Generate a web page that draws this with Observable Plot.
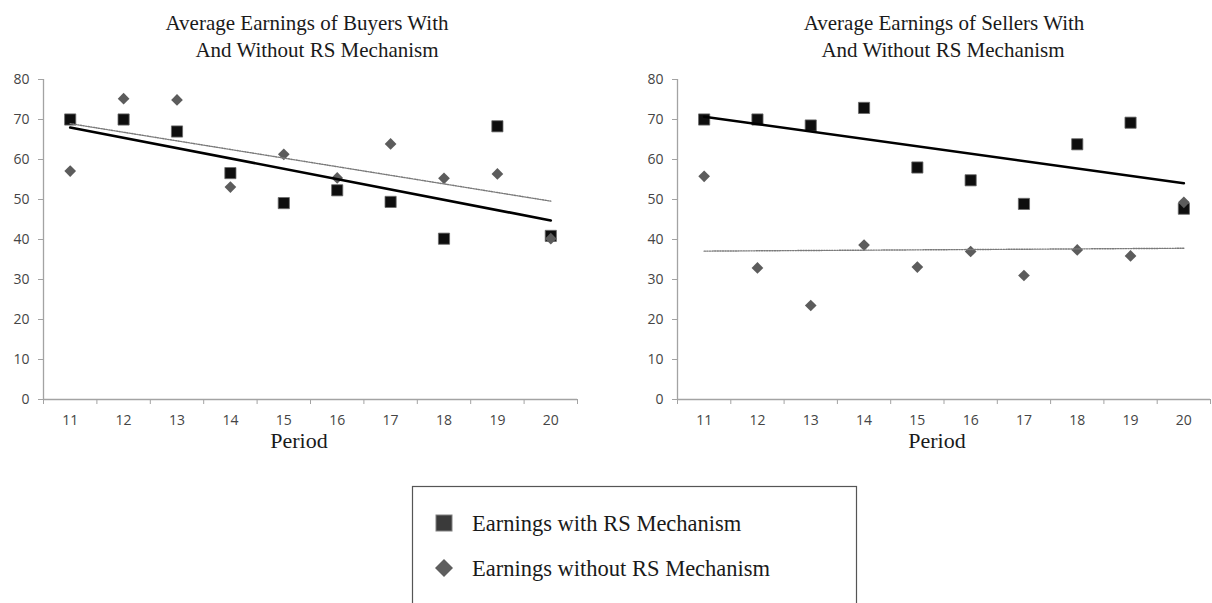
<!DOCTYPE html>
<html>
<head>
<meta charset="utf-8">
<script src="https://cdn.jsdelivr.net/npm/d3@7"></script>
<script src="https://cdn.jsdelivr.net/npm/@observablehq/plot@0.6"></script>
<style>
  html, body { margin: 0; padding: 0; background: #fff; }
  #wrap { position: relative; width: 1212px; height: 603px; overflow: hidden; background: #fff; }
  #wrap > .panel { position: absolute; top: 0; }
  #overlay { position: absolute; left: 0; top: 0; pointer-events: none; }
  .serif { font-family: "Liberation Serif", "Times New Roman", serif; fill: #1a1a1a; }
</style>
</head>
<body>
<div id="wrap">
  <div class="panel" id="left" style="left:0px"></div>
  <div class="panel" id="right" style="left:634px"></div>
  <svg id="overlay" width="1212" height="603"></svg>
</div>
<script>
// ---- data ----
const periods = [11, 12, 13, 14, 15, 16, 17, 18, 19, 20];
const yTicks = [0, 10, 20, 30, 40, 50, 60, 70, 80];

const buyersWith    = [70.0, 70.0, 67.0, 56.6, 49.1, 52.3, 49.4, 40.2, 68.3, 40.9];
const buyersWithout = [57.1, 75.2, 74.9, 53.1, 61.3, 55.4, 63.9, 55.3, 56.4, 40.2];
const sellersWith    = [70.0, 70.0, 68.5, 72.9, 58.0, 54.8, 48.9, 63.8, 69.2, 47.7];
const sellersWithout = [55.8, 32.9, 23.5, 38.6, 33.1, 37.0, 31.0, 37.4, 35.9, 49.3];

const titles = {
  left: ["Average Earnings of Buyers With", "And Without RS Mechanism"],
  right: ["Average Earnings of Sellers With", "And Without RS Mechanism"]
};
const xLabel = "Period";
const legendLabels = ["Earnings with RS Mechanism", "Earnings without RS Mechanism"];

// ---- symbols ----
const squareSym = { draw(ctx, size) { const s = Math.sqrt(size) / 2; ctx.rect(-s, -s, 2 * s, 2 * s); } };
const diamondSym = { draw(ctx, size) { const h = Math.sqrt(size) / 2;
  ctx.moveTo(0, -h); ctx.lineTo(h, 0); ctx.lineTo(0, h); ctx.lineTo(-h, 0); ctx.closePath(); } };

const AXIS = "#a3a3a3";
const bounds = periods.map(p => p - 0.5).concat([periods[periods.length - 1] + 0.5]);

function panel(withVals, withoutVals, width, marginRight) {
  const dWith = periods.map((p, i) => ({period: p, value: withVals[i]}));
  const dWithout = periods.map((p, i) => ({period: p, value: withoutVals[i]}));
  return Plot.plot({
    width, height: 460,
    marginLeft: 43, marginRight, marginTop: 79, marginBottom: 61,
    style: {fontFamily: "'Open Sans', sans-serif", fontSize: "14px", color: "#454545", background: "transparent", overflow: "visible"},
    x: {type: "linear", domain: [bounds[0], bounds[bounds.length - 1]], axis: null},
    y: {domain: [0, 80], axis: null},
    marks: [
      Plot.axisY({ticks: yTicks, tickSize: 5, tickPadding: 9, stroke: AXIS, fill: "#454545", tickFormat: d => d, label: null}),
      Plot.axisX({ticks: bounds, tickSize: 5, stroke: AXIS, tickFormat: () => "", label: null}),
      Plot.axisX({ticks: periods, tickSize: 0, tickPadding: 16, fill: "#454545", tickFormat: d => d, label: null}),
      Plot.ruleX([bounds[0]], {y1: 0, y2: 80, stroke: AXIS, strokeWidth: 1.3}),
      Plot.ruleY([0], {x1: bounds[0], x2: bounds[bounds.length - 1], stroke: AXIS, strokeWidth: 1.3}),
      Plot.dot(dWith, {x: "period", y: "value", symbol: squareSym, r: 6.3, fill: "#0e0e0e", stroke: "#6a6a6a", strokeWidth: 0.8}),
      Plot.dot(dWithout, {x: "period", y: "value", symbol: diamondSym, r: 6.6, fill: "#5c5c5c", stroke: "none"}),
      Plot.linearRegressionY(dWithout, {x: "period", y: "value", ci: 0, stroke: "#7a7a7a", strokeWidth: 1.4, strokeDasharray: "1.3,1.3"}),
      Plot.linearRegressionY(dWith, {x: "period", y: "value", ci: 0, stroke: "#000", strokeWidth: 2.6})
    ]
  });
}

document.getElementById("left").appendChild(panel(buyersWith, buyersWithout, 600, 23));
document.getElementById("right").appendChild(panel(sellersWith, sellersWithout, 578, 2));

// ---- overlay text & legend ----
const ov = d3.select("#overlay");
function txt(x, y, s, size, anchor = "middle") {
  ov.append("text").attr("class", "serif").attr("x", x).attr("y", y)
    .attr("text-anchor", anchor).style("font-size", size + "px").text(s);
}
txt(307, 30, titles.left[0], 21);
txt(317, 57, titles.left[1], 21);
txt(944, 30, titles.right[0], 21);
txt(943, 57, titles.right[1], 21);
txt(299, 448, xLabel, 22);
txt(937, 448, xLabel, 22);

ov.append("rect").attr("x", 412.5).attr("y", 486.5).attr("width", 444).attr("height", 140)
  .attr("fill", "#fff").attr("stroke", "#555").attr("stroke-width", 1.2);
ov.append("rect").attr("x", 436).attr("y", 515).attr("width", 16).attr("height", 16)
  .attr("fill", "#3a3a3a").attr("stroke", "#808080").attr("stroke-width", 1);
ov.append("path").attr("d", "M444,559L453,568L444,577L435,568Z").attr("fill", "#5e5e5e");
txt(472, 531, legendLabels[0], 22.5, "start");
txt(472, 576, legendLabels[1], 22.5, "start");
</script>
</body>
</html>
